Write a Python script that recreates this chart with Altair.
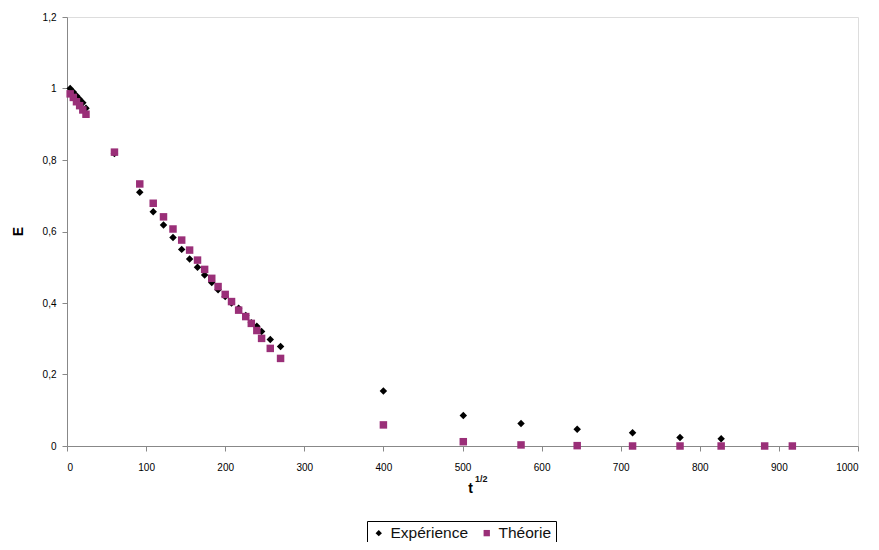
import altair as alt
import pandas as pd

# t^(1/2) values
t_vals = [4, 8, 12, 16, 20, 24, 60, 92, 109, 122, 134, 145, 155, 165, 174, 183,
          191, 200, 208, 217, 226, 233, 240, 246, 257, 270,
          400, 501, 574, 645, 715, 775, 827, 882, 917]

experience = [1.0, 0.99, 0.98, 0.97, 0.96, 0.945, 0.818, 0.710, 0.655, 0.618,
              0.583, 0.550, 0.523, 0.500, 0.478, 0.457, 0.437, 0.418, 0.400,
              0.385, 0.365, 0.345, 0.335, 0.320, 0.298, 0.278,
              0.154, 0.085, 0.063, 0.047, 0.037, 0.024, 0.020]

theorie = [0.985, 0.975, 0.963, 0.952, 0.940, 0.928, 0.822, 0.733, 0.679, 0.641,
           0.607, 0.576, 0.548, 0.520, 0.494, 0.469, 0.446, 0.424, 0.404,
           0.380, 0.362, 0.343, 0.323, 0.301, 0.273, 0.245,
           0.059, 0.012, 0.003, 0.001, 0.0, 0.0, 0.0, 0.0, 0.0]

series_names = ["Expérience", "Théorie"]
series_colors = ["#000000", "#9a2f78"]
series_shapes = ["diamond", "square"]

x_ticks = list(range(0, 1001, 100))
y_ticks = [0, 0.2, 0.4, 0.6, 0.8, 1.0, 1.2]

rows = []
for t, v in zip(t_vals, experience):
    rows.append({"t": t, "E": v, "serie": series_names[0]})
for t, v in zip(t_vals, theorie):
    rows.append({"t": t, "E": v, "serie": series_names[1]})
df = pd.DataFrame(rows)

FONT = "Liberation Sans"

points = alt.Chart(df).mark_point(filled=True, opacity=1, size=56, strokeWidth=0).encode(
    x=alt.X("t:Q", scale=alt.Scale(domain=[0, 1000], nice=False),
            axis=alt.Axis(values=x_ticks, title="t", grid=False, format="d",
                          titleX=403, titleY=46, titleAlign="center",
                          titleBaseline="alphabetic", titleFontSize=14,
                          titleFontWeight="bold", labelPadding=11)),
    y=alt.Y("E:Q", scale=alt.Scale(domain=[0, 1.2], nice=False),
            axis=alt.Axis(values=y_ticks, title="E", grid=False,
                          labelExpr="replace(format(datum.value, '~g'), '.', ',')",
                          titleX=-49, titleY=214, titleBaseline="middle",
                          titleAngle=270, titleFontSize=14,
                          titleFontWeight="bold", labelPadding=6)),
    color=alt.Color("serie:N", scale=alt.Scale(domain=series_names, range=series_colors),
                    legend=alt.Legend(title=None, orient="none", direction="horizontal",
                                      legendX=300, legendY=504, strokeColor="black",
                                      fillColor="white", padding=4, labelFontSize=15.5,
                                      labelFont=FONT, labelColor="#111",
                                      symbolSize=40, symbolStrokeWidth=0,
                                      columnPadding=10, labelOffset=4)),
    shape=alt.Shape("serie:N", scale=alt.Scale(domain=series_names, range=series_shapes),
                    legend=alt.Legend(title=None, orient="none", direction="horizontal",
                                      legendX=300, legendY=504)),
)

sup = alt.Chart(alt.Data(values=[{"s": "1/2"}])).mark_text(
    text="1/2", font=FONT, fontSize=9, fontWeight="bold", align="left",
    baseline="alphabetic", color="#111"
).encode(x=alt.value(408), y=alt.value(465))

chart = alt.layer(points, sup).properties(
    width=791, height=429,
    autosize=alt.AutoSizeParams(type="none"),
    padding={"left": 59, "top": 9, "right": 13, "bottom": 96},
).configure_view(stroke=None).configure_axis(
    domainColor="#777", tickColor="#777", tickSize=5,
    labelFont=FONT, labelFontSize=13, labelColor="#222",
    titleFont=FONT, titleColor="#111",
).configure(background="white")

chart.save("out.html", embed_options={"renderer": "svg", "actions": False})
